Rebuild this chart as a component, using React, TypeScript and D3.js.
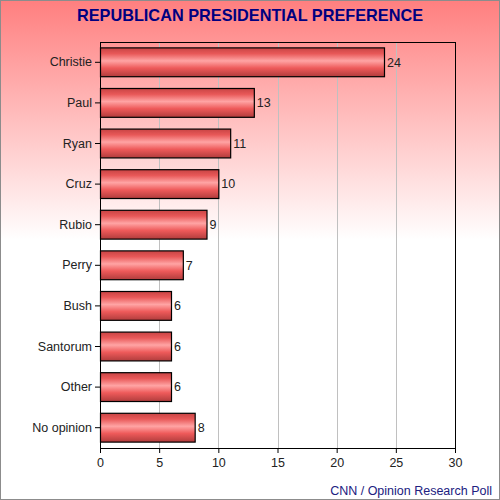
import * as d3 from "d3";
import { useEffect, useRef } from "react";

const candidates = ["Christie", "Paul", "Ryan", "Cruz", "Rubio", "Perry", "Bush", "Santorum", "Other", "No opinion"];
const support = [24, 13, 11, 10, 9, 7, 6, 6, 6, 8];
const xTicks = [0, 5, 10, 15, 20, 25, 30];

const FONT = "'Liberation Sans', Arial, sans-serif";

const App = () => {
    const ref = useRef<SVGSVGElement | null>(null);

    useEffect(() => {
        if (!ref.current) return;
        const W = 500, H = 500;
        const margin = { top: 42, right: 45, bottom: 52, left: 100 };
        const width = W - margin.left - margin.right,
            height = H - margin.top - margin.bottom;

        const svg = d3.select(ref.current);
        svg.selectAll("*").remove();

        const defs = svg.append("defs");
        const bg = defs.append("linearGradient").attr("id", "bg")
            .attr("x1", 0).attr("y1", 0).attr("x2", 0).attr("y2", 1);
        bg.append("stop").attr("offset", "0%").attr("stop-color", "#ff7f7f");
        bg.append("stop").attr("offset", "48%").attr("stop-color", "#ffffff");
        bg.append("stop").attr("offset", "100%").attr("stop-color", "#ffffff");

        const bar = defs.append("linearGradient").attr("id", "bar")
            .attr("x1", 0).attr("y1", 0).attr("x2", 0).attr("y2", 1);
        bar.append("stop").attr("offset", "0%").attr("stop-color", "#c84444");
        bar.append("stop").attr("offset", "20%").attr("stop-color", "#e85858");
        bar.append("stop").attr("offset", "45%").attr("stop-color", "#ffa4a4");
        bar.append("stop").attr("offset", "70%").attr("stop-color", "#ee5a5a");
        bar.append("stop").attr("offset", "100%").attr("stop-color", "#b03c3c");

        svg.append("rect").attr("x", 0.5).attr("y", 0.5).attr("width", W - 1).attr("height", H - 1)
            .attr("fill", "url(#bg)").attr("stroke", "#8c8c8c");

        const content = svg.append("g")
            .attr("transform", `translate(${margin.left},${margin.top})`);

        const x = d3.scaleLinear().domain([0, 30]).range([0, width]);
        const y = d3.scaleBand().domain(candidates).range([0, height]).paddingInner(0.29).paddingOuter(0.145);

        // gridlines
        content.selectAll(".grid")
            .data(xTicks.slice(1, -1))
            .join("line")
            .attr("x1", d => Math.round(x(d)) + 0.5).attr("x2", d => Math.round(x(d)) + 0.5)
            .attr("y1", 0).attr("y2", height)
            .attr("stroke", "#c0c0c0");

        const xAxis = content.append("g")
            .attr("transform", `translate(0, ${height})`)
            .call(d3.axisBottom(x).tickValues(xTicks).tickSize(5).tickSizeOuter(0));
        xAxis.select(".domain").remove();
        xAxis.selectAll("text").attr("font-size", 12.5).attr("fill", "#222").attr("dy", "0.9em")
            .style("font-family", FONT);

        const yAxis = content.append("g")
            .call(d3.axisLeft(y).tickSize(5).tickSizeOuter(0));
        yAxis.select(".domain").remove();
        yAxis.selectAll("text").attr("font-size", 12.5).attr("fill", "#222")
            .style("font-family", FONT);

        content.append("rect").attr("x", 0.5).attr("y", 0.5)
            .attr("width", width).attr("height", height)
            .attr("fill", "none").attr("stroke", "#000");

        const rows = candidates.map((c, i) => ({ c, v: support[i] }));

        content.selectAll(".bar")
            .data(rows)
            .join("rect")
            .attr("class", "bar")
            .attr("x", 0.5)
            .attr("y", d => y(d.c)!)
            .attr("width", d => x(d.v))
            .attr("height", y.bandwidth())
            .attr("fill", "url(#bar)")
            .attr("stroke", "#000")
            .attr("stroke-width", 1.2);

        content.selectAll(".val")
            .data(rows)
            .join("text")
            .attr("x", d => x(d.v) + 3)
            .attr("y", d => y(d.c)! + y.bandwidth() / 2)
            .attr("dy", "0.35em")
            .attr("font-size", 12.5)
            .attr("fill", "#222")
            .style("font-family", FONT)
            .text(d => d.v);

        svg.append("text")
            .attr("x", W / 2).attr("y", 21)
            .attr("text-anchor", "middle")
            .attr("font-size", 16.3).attr("font-weight", "bold")
            .attr("fill", "#000080")
            .style("font-family", FONT)
            .text("REPUBLICAN PRESIDENTIAL PREFERENCE");

        svg.append("text")
            .attr("x", 492).attr("y", 495)
            .attr("text-anchor", "end")
            .attr("font-size", 12.5)
            .attr("fill", "#202080")
            .style("font-family", FONT)
            .text("CNN / Opinion Research Poll");
    }, []);

    return <svg width={500} height={500} ref={ref} style={{ position: "absolute", left: 0, top: 0 }} />;
};

export default App;
